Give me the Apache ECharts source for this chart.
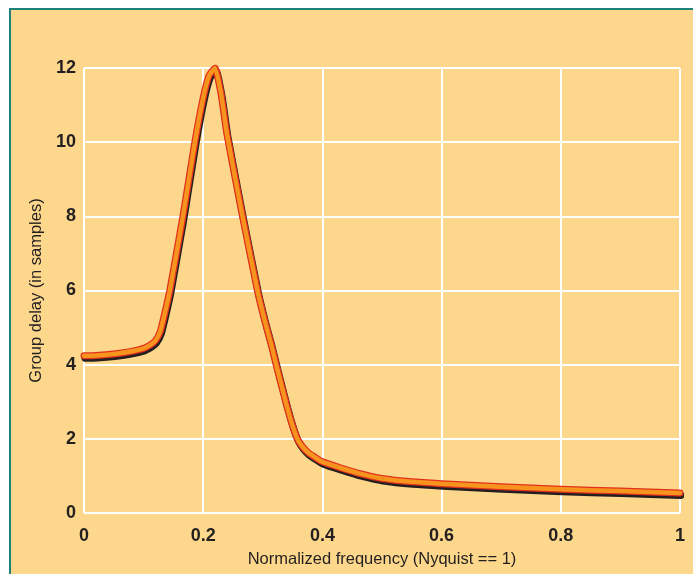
<!DOCTYPE html>
<html>
<head>
<meta charset="utf-8">
<script src="https://cdn.jsdelivr.net/npm/echarts@6/dist/echarts.min.js"></script>
<style>html,body{margin:0;padding:0;background:#fff}#c{width:693px;height:574px}</style>
</head>
<body>
<div id="c"></div>
<script>
const freq = [0, 0.02, 0.05, 0.08, 0.1, 0.112, 0.12, 0.128, 0.135, 0.144, 0.166, 0.186, 0.2, 0.21, 0.22, 0.23, 0.24, 0.266, 0.291, 0.303, 0.314, 0.324, 0.34, 0.35, 0.358, 0.366, 0.376, 0.388, 0.4, 0.43, 0.463, 0.5, 0.55, 0.6, 0.7, 0.8, 0.9, 1.0];
const delay = [4.24, 4.25, 4.29, 4.36, 4.44, 4.54, 4.65, 4.9, 5.35, 6, 8, 10, 11.2, 11.8, 12, 11.3, 10.2, 8, 6, 5.2, 4.55, 3.9, 2.9, 2.35, 2.0, 1.8, 1.63, 1.5, 1.38, 1.22, 1.06, 0.93, 0.84, 0.79, 0.71, 0.64, 0.59, 0.54];
const xTicks = ['0', '0.2', '0.4', '0.6', '0.8', '1'];
const yTicks = ['0', '2', '4', '6', '8', '10', '12'];

const pts = freq.map((f, i) => [f, delay[i]]);
const font = "'Liberation Sans Narrow', 'Arial Narrow', 'Liberation Sans', Arial, sans-serif";
const chart = echarts.init(document.getElementById('c'));
chart.setOption({
  animation: false,
  backgroundColor: '#ffffff',
  graphic: [{
    type: 'rect', z: -10, silent: true,
    shape: { x: 10, y: 9, width: 700, height: 600 },
    style: { fill: '#FDD88C', stroke: '#1E807A', lineWidth: 2 }
  }],
  grid: { left: 84, top: 68, right: 13, bottom: 61 },
  xAxis: {
    type: 'value', min: 0, max: 1, interval: 0.2,
    name: 'Normalized frequency (Nyquist == 1)',
    nameLocation: 'middle', nameGap: 38,
    nameTextStyle: { fontFamily: font, fontSize: 16.5, color: '#231F20' },
    axisLine: { show: false }, axisTick: { show: false },
    axisLabel: {
      margin: 14, fontFamily: font, fontWeight: 'bold', fontSize: 18, color: '#231F20',
      formatter: v => xTicks[Math.round(v / 0.2)]
    },
    splitLine: { show: true, lineStyle: { color: '#ffffff', width: 2 } }
  },
  yAxis: {
    type: 'value', min: 0, max: 12, interval: 2,
    name: 'Group delay (in samples)',
    nameLocation: 'middle', nameGap: 30,
    nameTextStyle: { fontFamily: font, fontSize: 16.5, color: '#231F20' },
    axisLine: { show: false }, axisTick: { show: false },
    axisLabel: {
      margin: 8, fontFamily: font, fontWeight: 'bold', fontSize: 18, color: '#231F20',
      formatter: v => yTicks[Math.round(v / 2)]
    },
    splitLine: { show: true, lineStyle: { color: '#ffffff', width: 2 } }
  },
  series: [
    {
      type: 'line', data: pts, smooth: 0.15, showSymbol: false, z: 3,
      lineStyle: { color: '#E0301E', width: 7, shadowColor: '#231F20', shadowOffsetX: 1, shadowOffsetY: 2.5, shadowBlur: 0, cap: 'round', join: 'round' }
    },
    {
      type: 'line', data: pts, smooth: 0.15, showSymbol: false, z: 4,
      lineStyle: { color: '#F7941D', width: 4.5, cap: 'round', join: 'round' }
    }
  ]
});
</script>
</body>
</html>
